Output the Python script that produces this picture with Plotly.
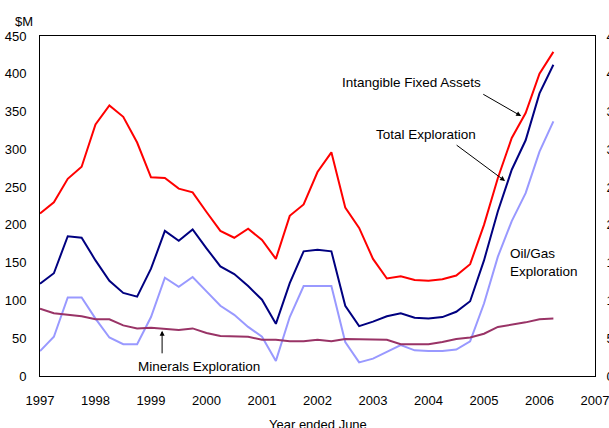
import plotly.graph_objects as go

quarters = [1997.0, 1997.25, 1997.5, 1997.75, 1998.0, 1998.25, 1998.5, 1998.75,
            1999.0, 1999.25, 1999.5, 1999.75, 2000.0, 2000.25, 2000.5, 2000.75,
            2001.0, 2001.25, 2001.5, 2001.75, 2002.0, 2002.25, 2002.5, 2002.75,
            2003.0, 2003.25, 2003.5, 2003.75, 2004.0, 2004.25, 2004.5, 2004.75,
            2005.0, 2005.25, 2005.5, 2005.75, 2006.0, 2006.25]

intangible = [215, 230, 261, 277, 333, 358, 343, 309,
              263, 262, 248, 243, 217, 192, 183, 195,
              180, 155, 212, 227, 270, 296, 223, 196,
              155, 129, 132, 127, 126, 128, 133, 148,
              200, 262, 315, 348, 400, 429]

total_expl = [122, 136, 185, 183, 153, 126, 110, 105,
              142, 192, 179, 194, 169, 145, 135, 119,
              101, 69, 123, 165, 167, 165, 93, 66,
              72, 79, 83, 77, 76, 78, 85, 99,
              153, 218, 273, 312, 374, 412]

oilgas = [33, 52, 104, 104, 76, 51, 42, 42,
          78, 130, 118, 131, 112, 93, 81, 65,
          52, 20, 78, 119, 119, 119, 45, 18,
          23, 32, 41, 34, 33, 33, 35, 46,
          96, 158, 205, 242, 297, 337]

minerals = [89, 83, 81, 79, 75, 75, 67, 63,
            64, 63, 61, 63, 57, 53, 53, 52,
            48, 48, 46, 46, 48, 46, 49, 49,
            49, 48, 42, 42, 42, 45, 49, 51,
            56, 65, 68, 71, 75, 76]

year_ticks = [1997, 1998, 1999, 2000, 2001, 2002, 2003, 2004, 2005, 2006, 2007]
y_ticks = [0, 50, 100, 150, 200, 250, 300, 350, 400, 450]

FONT = "Liberation Sans, Arial, sans-serif"

fig = go.Figure()
series = [
    ("Intangible Fixed Assets", intangible, "#FF0000"),
    ("Total Exploration", total_expl, "#000080"),
    ("Oil/Gas Exploration", oilgas, "#9999FF"),
    ("Minerals Exploration", minerals, "#993366"),
]
for name, vals, col in series:
    fig.add_trace(go.Scatter(x=quarters, y=vals, mode="lines", name=name,
                             line=dict(color=col, width=2), showlegend=False))

# invisible trace for right axis
fig.add_trace(go.Scatter(x=[quarters[0]], y=[intangible[0]], yaxis="y2",
                         mode="markers", marker=dict(opacity=0), showlegend=False,
                         hoverinfo="skip"))

fig.update_layout(
    width=609, height=428,
    margin=dict(l=40, r=14, t=36, b=52, autoexpand=False),
    paper_bgcolor="white", plot_bgcolor="white",
    font=dict(family=FONT, size=13, color="#000000"),
    xaxis=dict(range=[1997, 2007], tickvals=year_ticks, ticktext=[str(y) for y in year_ticks],
               showgrid=False, zeroline=False, showline=True, linecolor="#000000",
               linewidth=1, mirror=True, ticks="", tickfont=dict(size=13),
               ticklabelstandoff=12, ticklabeloverflow="allow"),
    yaxis=dict(range=[0, 450], tickvals=y_ticks, showgrid=False, zeroline=False,
               showline=True, linecolor="#000000", linewidth=1, ticks="",
               tickfont=dict(size=13), ticklabelstandoff=10, ticklabeloverflow="allow"),
    yaxis2=dict(range=[0, 450], tickvals=y_ticks, overlaying="y", side="right",
                showgrid=False, zeroline=False, showline=True, linecolor="#000000",
                linewidth=1, ticks="", tickfont=dict(size=13), ticklabelstandoff=8,
                ticklabeloverflow="allow"),
)

LBL = 13.5
ann = []
ann.append(dict(x=2003.70, y=388, text="Intangible Fixed Assets", showarrow=False,
                xref="x", yref="y", font=dict(size=LBL)))
ann.append(dict(x=2003.955, y=320, text="Total Exploration", showarrow=False,
                xref="x", yref="y", font=dict(size=LBL)))
ann.append(dict(x=2005.43, y=150, text="Oil/Gas<br>Exploration", showarrow=False,
                xref="x", yref="y", xanchor="left", align="left", font=dict(size=LBL)))
ann.append(dict(x=1999.856, y=13, text="Minerals Exploration", showarrow=False,
                xref="x", yref="y", font=dict(size=LBL)))
for (hx, hy, tx, ty) in [(2005.67, 344, 2004.96, 374),
                         (2005.38, 258, 2004.48, 307),
                         (1999.2, 60, 1999.2, 28)]:
    ann.append(dict(x=hx, y=hy, ax=tx, ay=ty, xref="x", yref="y", axref="x", ayref="y",
                    text="", showarrow=True, arrowhead=2, arrowsize=1, arrowwidth=1,
                    arrowcolor="#000000"))
ann.append(dict(x=-16/555, y=1 + 14/340, xref="paper", yref="paper", text="$M",
                showarrow=False, xanchor="center", yanchor="middle", font=dict(size=13)))
ann.append(dict(x=1 + 22/555, y=1 + 14/340, xref="paper", yref="paper", text="$M",
                showarrow=False, xanchor="left", yanchor="middle", font=dict(size=13)))
# x-axis title
ann.append(dict(x=0.5, y=-(424 - 376) / 340, xref="paper", yref="paper",
                text="Year ended June", showarrow=False, xanchor="center",
                yanchor="middle", font=dict(size=13)))
fig.update_layout(annotations=ann)

fig.write_html("out.html", config={"displayModeBar": False},
               post_script="document.body.style.margin='0px';document.body.style.overflow='hidden';")
